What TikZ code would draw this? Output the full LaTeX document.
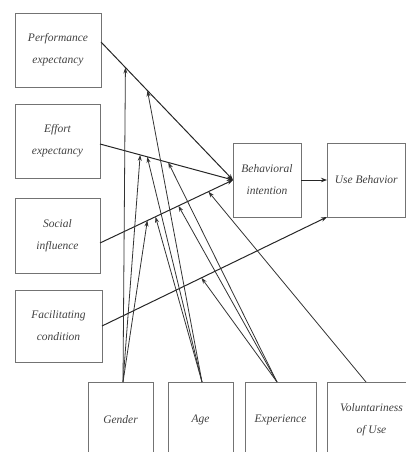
\documentclass[tikz,border=0pt]{standalone}
\usepackage{fontspec}
\setmainfont{Liberation Serif}
\usetikzlibrary{arrows.meta,calc}
\tikzset{
  box/.style={draw=black!55, line width=0.8pt, rectangle, inner sep=0pt, outer sep=0pt,
    align=center, font=\itshape\fontsize{11.5}{22}\selectfont, text=black!75},
  conn/.style={draw=black!85, line width=1pt, -{Stealth[length=6pt,width=4.5pt]}},
  modarrow/.style={draw=black!80, line width=0.8pt, -{Stealth[length=6pt,width=4pt]}}
}
\begin{document}
\begin{tikzpicture}[x=1pt,y=-1pt]
\useasboundingbox (0,0) rectangle (406,452);
\clip (0,0) rectangle (406,452);
% boxes
\node[box, minimum width=86pt, minimum height=74pt] (pe) at (58,50) {Performance\\expectancy};
\node[box, minimum width=85pt, minimum height=74pt] (ee) at (57.5,141) {Effort\\expectancy};
\node[box, minimum width=85pt, minimum height=75pt] (si) at (57.5,235.5) {Social\\influence};
\node[box, minimum width=87pt, minimum height=72pt] (fc) at (58.5,326) {Facilitating\\condition};
\node[box, minimum width=68pt, minimum height=74pt] (bi) at (267,180) {Behavioral\\intention};
\node[box, minimum width=78.5pt, minimum height=74pt] (ub) at (366.25,180) {Use Behavior};
\node[box, minimum width=65pt, minimum height=76pt] (gender) at (120.5,420) {Gender};
\node[box, minimum width=65pt, minimum height=76pt] (age) at (200.5,420) {Age};
\node[box, minimum width=71pt, minimum height=76pt] (exp) at (280.5,420) {Experience};
\node[box, minimum width=89pt, minimum height=76pt] (vol) at (371.5,420) {Voluntariness\\of Use};
% start points
\coordinate (peO) at (pe.east |- 0,42);
\coordinate (eeO) at (ee.east |- 0,144);
\coordinate (siO) at (si.east |- 0,243);
\coordinate (gS) at ($(gender.north)+(2.5,0)$);
\coordinate (aS) at ($(age.north)+(1.5,0)$);
\coordinate (eS) at ($(exp.north)+(-3.5,0)$);
\coordinate (vS) at ($(vol.north)+(-5.5,0)$);
% main connectors
\draw[conn] (peO) -- coordinate[pos=0.185] (peG) coordinate[pos=0.352] (peA) (bi.west);
\draw[conn] (eeO) -- coordinate[pos=0.302] (eeG) coordinate[pos=0.355] (eeA) coordinate[pos=0.513] (eeE) (bi.west);
\draw[conn] (siO) -- coordinate[pos=0.356] (siG) coordinate[pos=0.417] (siA) coordinate[pos=0.590] (siE) coordinate[pos=0.815] (siV) (bi.west);
\draw[conn] (fc.east) -- coordinate[pos=0.442] (fcE) (ub.south west);
\draw[conn] (bi.east) -- (ub.west);
% moderators
\draw[modarrow] (gS) -- (peG);
\draw[modarrow] (gS) -- (eeG);
\draw[modarrow] (gS) -- (siG);
\draw[modarrow] (aS) -- (peA);
\draw[modarrow] (aS) -- (eeA);
\draw[modarrow] (aS) -- (siA);
\draw[modarrow] (eS) -- (eeE);
\draw[modarrow] (eS) -- (siE);
\draw[modarrow] (eS) -- (fcE);
\draw[modarrow] (vS) -- (siV);
\end{tikzpicture}
\end{document}
